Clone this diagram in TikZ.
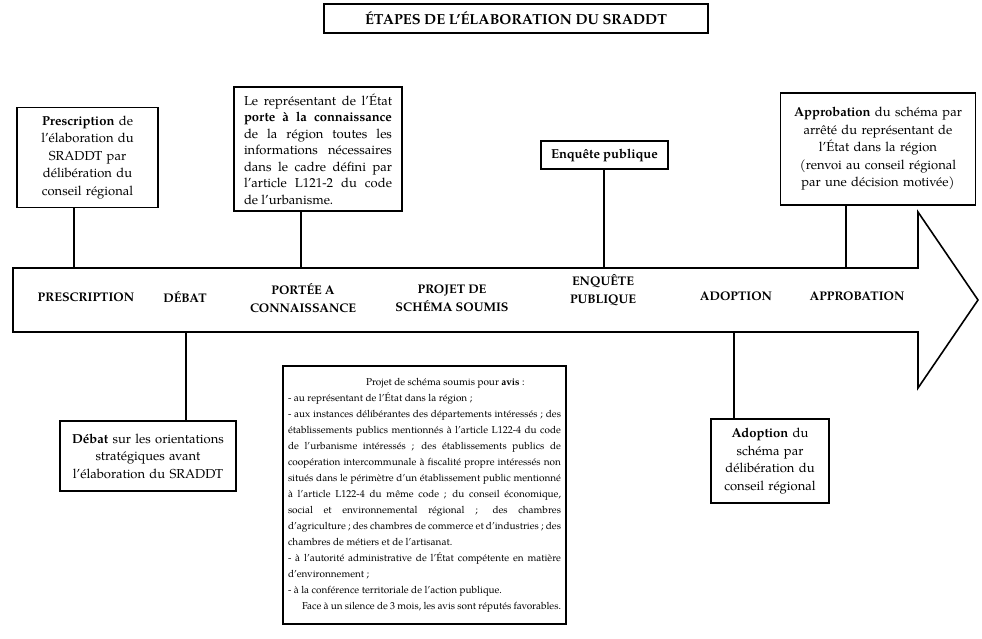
\documentclass[tikz,border=0pt]{standalone}
\usepackage{fontspec}
\setmainfont{TeX Gyre Pagella}
\begin{document}
\begin{tikzpicture}[x=1pt,y=-1pt,
  box/.style={draw, line width=1.3pt, inner sep=0pt, fill=white},
  boxtext/.style={font=\fontsize{13}{17.5}\selectfont, align=center},
  lbl/.style={font=\fontsize{12.5}{18}\selectfont\bfseries, align=center, inner sep=0pt},
  conn/.style={line width=1.1pt}]
\useasboundingbox (0,0) rectangle (982,638);

% title
\node[box, minimum width=384, minimum height=29, font=\fontsize{14.5}{17}\selectfont\bfseries] (title) at (516,18.5) {ÉTAPES DE L’ÉLABORATION DU SRADDT};

% arrow
\coordinate (atl) at (13,268);
\coordinate (atop) at (918,268);
\coordinate (ahu) at (918,212);
\coordinate (tip) at (978,300);
\coordinate (ahd) at (918,388);
\coordinate (abot) at (918,332);
\coordinate (abl) at (13,332);
\draw[line width=1.6pt, line join=miter] (atl) -- (atop) -- (ahu) -- (tip) -- (ahd) -- (abot) -- (abl) -- cycle;

% labels inside arrow
\node[lbl] (l1) at (86,297) {PRESCRIPTION};
\node[lbl] (l2) at (185,297) {DÉBAT};
\node[lbl] (l3) at (303,298) {PORTÉE A\\CONNAISSANCE};
\node[lbl] (l4) at (452,298) {PROJET DE\\SCHÉMA SOUMIS};
\node[lbl] (l5) at (603,290) {ENQUÊTE\\PUBLIQUE};
\node[lbl] (l6) at (736,296) {ADOPTION};
\node[lbl] (l7) at (857,296) {APPROBATION};

% upper boxes
\node[box, boxtext, minimum width=141, minimum height=100, text width=134] (presc) at (87.5,157.5)
  {\textbf{Prescription} de\\ l’élaboration du\\ SRADDT par\\ délibération du\\ conseil régional};

\node[box, minimum width=168, minimum height=124, text width=148, align=justify,
      font=\fontsize{13}{16.5}\selectfont] (porte) at (318,149)
  {Le représentant de l’État\linebreak
   \textbf{porte à la connaissance}\linebreak
   de la région toutes les\linebreak
   informations nécessaires\linebreak
   dans le cadre défini par\linebreak
   l’article L121-2 du code\linebreak
   de l’urbanisme.};

\node[box, minimum width=127, minimum height=28, font=\fontsize{13}{16}\selectfont\bfseries] (enq) at (604.5,155) {Enquête publique};

\node[box, boxtext, minimum width=195, minimum height=112, text width=188] (appro) at (878,149)
  {\textbf{Approbation} du schéma par\\ arrêté du représentant de\\ l’État dans la région\\ (renvoi au conseil régional\\ par une décision motivée)};

% lower boxes
\node[box, boxtext, minimum width=176, minimum height=70, text width=170] (debat) at (148,456)
  {\textbf{Débat} sur les orientations\\ stratégiques avant\\ l’élaboration du SRADDT};

\node[box, boxtext, minimum width=118, minimum height=84, text width=112] (adop) at (770,461)
  {\textbf{Adoption} du\\ schéma par\\ délibération du\\ conseil régional};

\node[box, minimum width=283, minimum height=258, text width=273, align=justify,
      font=\fontsize{10}{16}\selectfont] (avis) at (424.5,495)
  {\parindent0pt
   \hspace*{78pt}Projet de schéma soumis pour \textbf{avis}~:\par
   - au représentant de l’État dans la région~;\par
   - aux instances délibérantes des départements intéressés~; des\linebreak
   établissements publics mentionnés à l’article L122-4 du code\linebreak
   de l’urbanisme intéressés~; des établissements publics de\linebreak
   coopération intercommunale à fiscalité propre intéressés non\linebreak
   situés dans le périmètre d’un établissement public mentionné\linebreak
   à l’article L122-4 du même code~; du conseil économique,\linebreak
   social et environnemental régional~; des chambres\linebreak
   d’agriculture~; des chambres de commerce et d’industries~; des\linebreak
   chambres de métiers et de l’artisanat.\par
   - à l’autorité administrative de l’État compétente en matière\linebreak
   d’environnement~;\par
   - à la conférence territoriale de l’action publique.\par
   \hspace*{14pt}Face à un silence de 3 mois, les avis sont réputés favorables.\par};

% connectors
\coordinate (c1) at (74,268);
\coordinate (c2) at (301,268);
\coordinate (c3) at (604,268);
\coordinate (c4) at (846,268);
\coordinate (c5) at (186,332);
\coordinate (c6) at (734,332);
\draw[conn] (c1 |- presc.south) -- (c1);
\draw[conn] (c2 |- porte.south) -- (c2);
\draw[conn] (c3 |- enq.south) -- (c3);
\draw[conn] (c4 |- appro.south) -- (c4);
\draw[conn] (c5 |- debat.north) -- (c5);
\draw[conn] (c6 |- adop.north) -- (c6);
\end{tikzpicture}
\end{document}
